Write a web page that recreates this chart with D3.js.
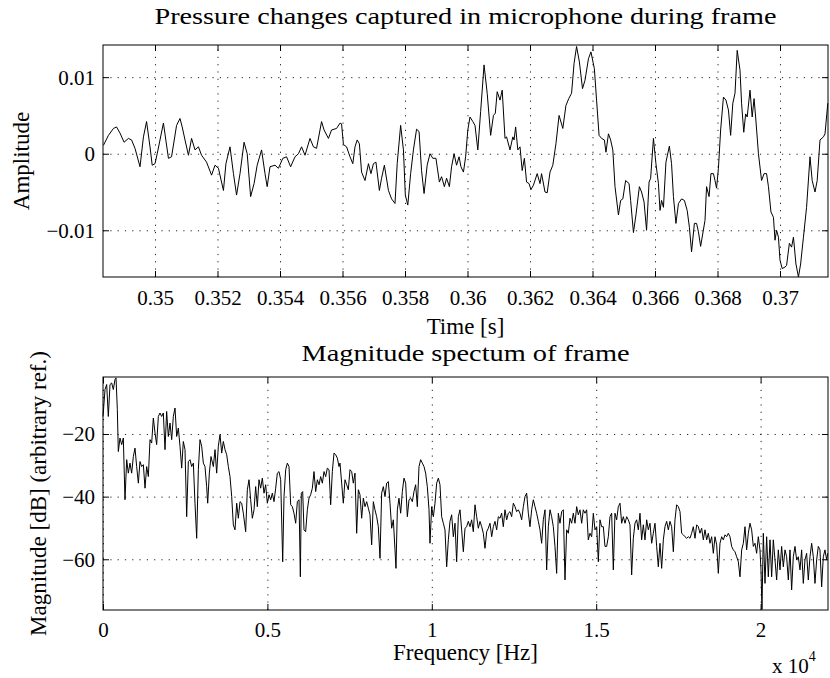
<!DOCTYPE html>
<html>
<head>
<meta charset="utf-8">
<script src="https://cdn.jsdelivr.net/npm/d3@7"></script>
<style>
  body { margin: 0; background: #fff; }
  svg text { font-family: "Liberation Serif", "Times New Roman", serif; font-size: 21px; fill: #000; }
  svg text.label { font-size: 23px; }
  svg text.title { font-size: 24px; }
</style>
</head>
<body>
<svg id="chart" width="830" height="678"></svg>
<script>
// ---- top panel: microphone pressure over the frame (time in ms, amplitude x 1e-3)
const timeMs = [348.35,348.51,348.67,348.77,348.88,349.01,349.15,349.25,349.36,349.52,
  349.63,349.73,349.84,349.91,350.00,350.07,350.27,350.43,350.53,350.69,
  350.80,350.87,350.96,351.07,351.17,351.28,351.39,351.49,351.65,351.81,
  351.92,352.03,352.19,352.27,352.40,352.51,352.61,352.72,352.85,352.95,
  353.06,353.17,353.27,353.41,353.52,353.59,353.68,353.84,353.95,354.09,
  354.21,354.34,354.48,354.59,354.69,354.80,354.96,355.07,355.17,355.33,
  355.41,355.55,355.65,355.81,355.92,355.97,356.03,356.13,356.24,356.33,
  356.40,356.47,356.54,356.61,356.72,356.83,356.91,356.99,357.07,357.18,
  357.25,357.34,357.47,357.57,357.68,357.75,357.86,357.95,358.01,358.09,
  358.18,358.27,358.37,358.45,358.53,358.61,358.71,358.80,358.89,358.99,
  359.10,359.17,359.26,359.33,359.42,359.49,359.57,359.65,359.73,359.79,
  359.87,359.94,360.01,360.08,360.17,360.24,360.33,360.42,360.53,360.63,
  360.74,360.83,360.89,360.95,361.04,361.11,361.20,361.25,361.36,361.45,
  361.49,361.54,361.61,361.68,361.75,361.82,361.89,361.97,362.03,362.11,
  362.23,362.32,362.37,362.48,362.55,362.64,362.73,362.83,362.93,363.05,
  363.15,363.24,363.33,363.41,363.49,363.58,363.68,363.76,363.87,363.95,
  364.06,364.13,364.21,364.29,364.38,364.43,364.51,364.58,364.65,364.72,
  364.83,364.90,364.97,365.06,365.17,365.22,365.31,365.39,365.50,365.57,
  365.65,365.73,365.81,365.86,365.95,366.03,366.11,366.16,366.21,366.27,
  366.35,366.46,366.53,366.59,366.67,366.75,366.85,366.94,367.03,367.10,
  367.17,367.26,367.33,367.39,367.46,367.60,367.65,367.73,367.79,367.87,
  367.92,367.97,368.03,368.10,368.19,368.27,368.35,368.42,368.49,368.56,
  368.63,368.72,368.77,368.84,368.90,368.95,369.04,369.11,369.17,369.22,
  369.31,369.41,369.49,369.57,369.63,369.71,369.79,369.84,369.89,369.95,
  370.00,370.07,370.16,370.21,370.30,370.37,370.43,370.51,370.59,370.66,
  370.75,370.85,370.96,371.03,371.12,371.19,371.28,371.39,371.44,371.53];
const amplitudeE3 = [1.1,2.4,3.3,3.5,2.7,1.5,2.0,1.8,0.7,-1.7,
  2.2,4.2,0.9,-1.5,-1.3,0.0,4.0,-0.6,-0.4,3.7,
  4.6,3.5,1.8,-0.2,2.0,0.5,0.9,-0.2,-1.1,-2.8,
  -1.5,-1.9,-4.8,-1.3,0.9,-2.6,-5.4,-2.6,1.5,0.0,
  -5.6,-3.9,-1.5,0.5,-2.6,-4.3,-1.7,-1.5,-1.9,-0.6,
  -0.4,-1.7,-0.4,0.0,0.9,-0.2,2.0,0.9,0.7,4.2,
  3.1,2.0,3.1,3.3,4.0,3.9,1.2,0.9,-0.4,-1.3,
  0.9,1.8,1.3,-2.4,-3.5,-1.3,-2.6,-1.3,-1.1,-4.8,
  -3.2,-1.5,-4.8,-5.9,-6.5,-1.3,3.7,0.5,-5.4,-6.7,
  -2.6,0.5,3.2,2.9,-2.2,-5.2,-1.5,0.0,-0.6,-0.6,
  -3.7,-3.0,-4.3,-3.2,-4.3,-1.7,0.0,-1.5,-0.4,-1.7,
  -2.4,-0.4,3.1,4.8,4.2,3.7,0.5,5.5,11.6,7.9,
  2.4,5.0,5.3,8.1,7.0,8.3,2.0,2.2,0.5,2.2,
  1.8,3.5,0.5,0.9,-2.2,-0.6,-3.7,-3.9,-4.7,-4.1,
  -2.6,-3.9,-2.6,-5.0,-5.1,-2.4,-1.5,1.3,5.0,3.3,
  6.3,7.2,7.9,11.8,14.0,12.0,8.5,9.6,12.4,13.3,
  11.1,7.0,2.4,2.0,1.8,0.2,2.6,1.8,0.5,-4.3,
  -8.0,-6.1,-5.9,-3.5,-3.9,-6.1,-10.3,-8.0,-4.3,-5.0,
  -6.3,-10.0,-3.7,-3.2,2.0,-1.3,-3.9,-7.4,-6.1,-7.0,
  -1.1,1.0,-1.3,-5.6,-9.1,-6.5,-5.9,-6.1,-7.4,-9.6,
  -12.8,-9.1,-9.1,-10.2,-12.1,-8.7,-4.3,-5.6,-2.6,-2.6,
  -3.5,-4.5,-1.9,3.1,7.4,7.0,5.7,2.4,6.6,7.9,
  13.5,10.9,6.6,2.8,5.2,4.8,8.3,4.8,7.2,4.8,
  0.0,-3.5,-2.6,-2.6,-4.3,-7.6,-8.3,-11.3,-10.0,-10.9,
  -13.9,-15.0,-14.8,-14.6,-11.7,-12.2,-10.9,-14.4,-16.1,-14.4,
  -10.9,-7.0,-0.4,-3.5,-5.0,-3.5,1.8,2.2,2.6,6.6];
const timeTicks = [0.35,0.352,0.354,0.356,0.358,0.36,0.362,0.364,0.366,0.368,0.37];
const ampTicks = [-0.01, 0, 0.01];
const timeDomain = [0.348336, 0.371536];
const ampDomain = [-0.0161, 0.0142];

// ---- bottom panel: magnitude spectrum of the frame
const freqHz = [0,61,112,162,213,264,314,365,396,436,
  466,517,568,618,669,720,770,821,872,923,
  973,1024,1075,1125,1176,1227,1278,1328,1379,1430,
  1480,1531,1582,1632,1683,1734,1784,1835,1886,1936,
  1987,2038,2089,2139,2190,2241,2291,2342,2393,2443,
  2494,2545,2596,2646,2697,2748,2798,2849,2900,2950,
  3001,3052,3102,3153,3184,3234,3285,3356,3407,3457,
  3508,3559,3610,3660,3711,3762,3812,3863,3914,3964,
  4015,4066,4116,4167,4218,4268,4339,4390,4441,4491,
  4542,4593,4643,4694,4745,4795,4846,4897,4947,4998,
  5049,5100,5150,5201,5252,5302,5353,5404,5465,5505,
  5556,5607,5657,5708,5759,5809,5860,5911,5962,6002,
  6032,6073,6113,6164,6215,6265,6316,6367,6417,6468,
  6519,6570,6620,6671,6722,6772,6823,6874,6924,6975,
  7026,7076,7127,7178,
  7208,7259,7309,7360,7411,7461,7512,7563,7613,7664,
  7715,7766,7816,7867,7918,7968,8019,8070,8120,8171,
  8222,8272,8323,8374,8425,8475,8526,8577,8627,8678,
  8729,8779,8830,8881,8911,8952,9002,9053,9104,9154,
  9205,9256,9307,9357,9408,9458,9509,9560,9611,9661,
  9712,9763,9813,9864,9915,9945,9996,10047,10097,10148,
  10199,10249,10300,10351,10401,10452,10503,10553,10604,10655,
  10706,10756,10807,10858,10908,10959,11010,11060,11111,11162,
  11212,11263,11314,11364,11415,11466,11517,11567,11618,11669,
  11719,11770,11821,11871,11922,11973,12023,12074,12125,12175,
  12226,12277,12328,12378,12429,12480,12530,12581,12632,12682,
  12733,12784,12834,12885,12936,12986,13037,13088,13139,13189,
  13240,13291,13341,13392,13443,13493,13544,13595,13645,13696,
  13747,13797,13848,13899,13949,14000,14051,14102,14152,14203,
  14254,14304,14355,14406,14456,14507,14558,14608,14659,14710,
  14760,14811,14862,14913,14963,15014,15065,15115,15166,15217,
  15267,15318,15369,15419,15470,15521,15571,15622,15673,15724,
  15774,15825,15876,15926,15977,16028,16078,16129,16180,16230,
  16281,16332,16382,16433,16484,16535,16585,16636,16687,16737,
  16788,16839,16889,16940,16991,17042,17092,17143,17194,17244,
  17295,17346,17396,17447,17498,17549,17599,17650,17701,17751,
  17802,17853,17903,17954,18005,18055,18106,18157,18207,18258,
  18309,18360,18410,18461,18512,18562,18613,18664,18714,18765,
  18816,18866,18917,18968,19018,19069,19120,19170,19221,19272,
  19323,19373,19424,19475,19525,19576,19627,19677,19728,19779,
  19829,19880,19931,19981,20012,20042,20083,20134,20184,20235,
  20286,20336,20387,20438,20488,20539,20590,20640,20691,20742,
  20792,20843,20894,20944,20995,21046,21096,21147,21198,21248,
  21299,21350,21400,21451,21502,21553,21603,21654,21705,21755,
  21806,21857,21907,21958,22009,22040];
const magDb = [-14.4,-5.8,-4.2,-14.4,-4.2,-3.7,-5.8,-2.6,-2.1,-12.2,
  -25.6,-21.3,-23.4,-21.3,-41.0,-28.2,-32.5,-29.3,-32.5,-27.2,
  -24.5,-30.4,-35.7,-28.8,-30.4,-29.8,-37.3,-30.4,-33.6,-21.8,
  -22.9,-14.9,-19.7,-23.4,-14.4,-13.3,-14.4,-13.3,-25.0,-12.8,
  -20.8,-16.5,-21.8,-14.4,-11.7,-20.8,-18.1,-23.9,-30.9,-22.4,
  -25.0,-46.4,-28.8,-28.2,-30.4,-29.3,-42.1,-53.3,-31.4,-21.8,
  -23.9,-29.3,-30.4,-36.8,-42.1,-32.5,-27.2,-30.4,-25.0,-32.5,
  -23.9,-20.2,-26.1,-22.4,-25.0,-26.6,-30.4,-33.6,-40.0,-49.0,
  -50.6,-42.1,-46.9,-41.6,-42.1,-45.3,-51.2,-37.8,-34.6,-41.0,
  -46.9,-44.2,-36.8,-43.2,-34.6,-37.3,-34.1,-38.9,-36.2,-42.1,
  -39.4,-41.0,-38.9,-41.6,-37.3,-32.5,-32.0,-34.6,-60.8,-40.0,
  -31.4,-29.3,-30.4,-42.6,-43.2,-45.3,-48.5,-41.6,-41.0,-65.6,
  -38.9,-38.4,-50.6,-51.2,-44.2,-40.5,-39.4,-37.3,-32.0,-38.4,
  -34.6,-36.2,-33.6,-35.7,-32.0,-33.6,-30.9,-31.4,-42.6,-32.0,
  -26.1,-26.6,-27.7,-30.4,
  -29.3,-35.7,-42.1,-34.6,-36.2,-37.8,-31.4,-32.0,-35.7,-32.5,
  -51.7,-37.8,-39.4,-46.9,-40.5,-43.2,-41.6,-43.7,-45.8,-55.4,
  -41.6,-44.2,-46.4,-49.6,-59.7,-38.9,-36.8,-40.0,-35.7,-35.2,
  -42.1,-50.1,-47.4,-57.0,-62.9,-44.2,-40.5,-45.3,-38.4,-34.1,
  -35.7,-46.4,-41.0,-40.5,-41.6,-38.4,-36.2,-43.2,-30.4,-28.2,
  -29.3,-30.4,-32.5,-36.8,-44.2,-54.9,-43.2,-46.4,-42.1,-35.7,
  -34.1,-36.2,-46.4,-48.5,-50.6,-62.4,-53.8,-47.9,-45.8,-52.8,
  -48.5,-60.8,-46.4,-44.2,-50.6,-57.6,-50.1,-49.6,-47.9,-49.6,
  -47.4,-51.2,-42.6,-46.4,-50.1,-47.9,-49.6,-51.7,-56.5,-51.2,
  -50.1,-48.5,-52.8,-49.6,-47.9,-50.6,-46.4,-46.9,-45.3,-49.6,
  -44.2,-47.4,-45.3,-44.8,-46.4,-42.1,-43.2,-44.8,-44.2,-45.3,
  -47.4,-43.2,-40.0,-38.9,-45.3,-49.6,-44.2,-41.0,-43.2,-45.3,
  -47.9,-50.6,-54.9,-47.4,-44.2,-63.4,-49.6,-44.2,-46.4,-49.6,
  -55.9,-64.5,-45.3,-48.5,-44.8,-44.2,-66.6,-50.6,-51.7,-46.9,
  -48.5,-45.3,-48.5,-43.2,-45.8,-44.2,-48.5,-44.2,-45.3,-44.2,
  -53.8,-51.7,-52.8,-45.3,-50.6,-49.6,-60.8,-47.4,-49.6,-49.6,
  -55.9,-55.9,-52.8,-46.4,-45.3,-63.4,-45.3,-47.4,-43.2,-42.1,
  -48.5,-46.4,-48.5,-46.4,-47.4,-49.0,-65.0,-53.3,-48.5,-47.4,
  -50.6,-45.3,-53.8,-49.0,-53.8,-47.4,-50.6,-48.5,-54.9,-51.7,
  -48.5,-55.9,-62.4,-54.9,-62.9,-53.8,-49.6,-47.9,-50.6,-47.9,
  -49.6,-57.6,-47.4,-42.6,-43.2,-44.8,-51.7,-52.2,-52.8,-53.3,
  -52.8,-53.3,-51.7,-49.6,-53.3,-49.0,-49.6,-51.7,-50.1,-53.8,
  -50.6,-53.8,-51.7,-54.9,-52.8,-58.1,-52.8,-55.4,-64.5,-54.9,
  -52.8,-53.8,-52.2,-52.8,-51.7,-52.8,-55.9,-57.0,-57.6,-59.2,
  -60.8,-65.6,-57.0,-54.9,-49.6,-57.0,-51.7,-48.5,-50.6,-55.9,
  -54.9,-58.1,-52.8,-57.0,-63.4,-76.0,-51.7,-67.7,-52.8,-65.6,
  -53.8,-65.6,-53.8,-60.2,-66.6,-57.0,-63.4,-55.9,-62.4,-57.0,
  -59.2,-66.6,-57.0,-69.8,-59.2,-55.9,-60.2,-59.2,-63.4,-57.0,
  -67.7,-60.2,-58.1,-66.6,-59.2,-54.9,-59.2,-67.7,-60.2,-55.9,
  -57.0,-68.8,-59.2,-57.0,-60.2,-58.1];
const freqTicks = [0, 5000, 10000, 15000, 20000];
const dbTicks = [-60, -40, -20];
const freqDomain = [0, 22050];
const dbDomain = [-76.2, -1.8];

const svg = d3.select('#chart');
const LEFT = 103, RIGHT = 828, CX = (LEFT + RIGHT) / 2;
const minus = v => (v < 0 ? '\u2212' : '') + Math.abs(v);

function drawPanel(p) {
  const x = d3.scaleLinear().domain(p.xDomain).range([LEFT, RIGHT]);
  const y = d3.scaleLinear().domain(p.yDomain).range([p.bottom, p.top]);
  const h = p.bottom - p.top, w = RIGHT - LEFT;
  const g = svg.append('g');

  // dotted grid
  g.append('g').attr('transform', `translate(0,${p.bottom})`)
    .call(d3.axisBottom(x).tickValues(p.xTicks).tickSize(-h).tickFormat(''))
    .call(s => s.select('.domain').remove());
  g.append('g').attr('transform', `translate(${LEFT},0)`)
    .call(d3.axisLeft(y).tickValues(p.yTicks).tickSize(-w).tickFormat(''))
    .call(s => s.select('.domain').remove());
  g.selectAll('.tick line').attr('stroke', '#222').attr('stroke-width', 1)
    .attr('stroke-dasharray', '1.2,6.1');

  // signal
  g.append('path').datum(p.data)
    .attr('fill', 'none').attr('stroke', '#000').attr('stroke-width', 1)
    .attr('stroke-linejoin', 'round')
    .attr('d', d3.line().x(d => x(d[0])).y(d => y(d[1])));

  // box + inward ticks on all four sides
  g.append('rect').attr('x', LEFT).attr('y', p.top).attr('width', w).attr('height', h)
    .attr('fill', 'none').attr('stroke', '#000').attr('stroke-width', 1);

  const ax = g.append('g').attr('class', 'axis');
  ax.append('g').attr('transform', `translate(0,${p.bottom})`)
    .call(d3.axisBottom(x).tickValues(p.xTicks).tickSize(-6).tickFormat(p.xFormat))
    .call(s => s.select('.domain').remove())
    .call(s => s.selectAll('text').attr('y', p.xLabelOffset).attr('dy', null));
  ax.append('g').attr('transform', `translate(0,${p.top})`)
    .call(d3.axisTop(x).tickValues(p.xTicks).tickSize(-6).tickFormat(''))
    .call(s => s.select('.domain').remove());
  ax.append('g').attr('transform', `translate(${LEFT},0)`)
    .call(d3.axisLeft(y).tickValues(p.yTicks).tickSize(-6).tickFormat(p.yFormat))
    .call(s => s.select('.domain').remove())
    .call(s => s.selectAll('text').attr('x', -8).attr('dy', '0.33em'));
  ax.append('g').attr('transform', `translate(${RIGHT},0)`)
    .call(d3.axisRight(y).tickValues(p.yTicks).tickSize(-6).tickFormat(''))
    .call(s => s.select('.domain').remove());
  ax.selectAll('.tick line').attr('stroke', '#000');
  ax.selectAll('g').attr('font-size', null).attr('font-family', null);

  // labels (titles are set wide, as in the source figure)
  svg.append('text').attr('class', 'title').attr('x', CX).attr('y', p.titleY)
    .attr('text-anchor', 'middle')
    .attr('textLength', p.titleWidth).attr('lengthAdjust', 'spacingAndGlyphs')
    .text(p.title);
  svg.append('text').attr('class', 'label').attr('x', CX).attr('y', p.xTitleY)
    .attr('text-anchor', 'middle').text(p.xTitle);
  svg.append('text').attr('class', 'label').attr('text-anchor', 'middle')
    .attr('transform', `translate(${p.yTitleX},${(p.top + p.bottom) / 2}) rotate(-90)`)
    .text(p.yTitle);
  return { x, y };
}

drawPanel({
  top: 45, bottom: 277,
  xDomain: timeDomain, yDomain: ampDomain,
  xTicks: timeTicks, yTicks: ampTicks,
  data: d3.zip(timeMs.map(t => t / 1000), amplitudeE3.map(a => a / 1000)),
  xFormat: d => String(+d.toFixed(3)), yFormat: d => minus(+d.toFixed(3)),
  xLabelOffset: 28,
  title: 'Pressure changes captured in microphone during frame', titleY: 24, titleWidth: 622,
  xTitle: 'Time [s]', xTitleY: 334,
  yTitle: 'Amplitude', yTitleX: 29
});

drawPanel({
  top: 377, bottom: 610,
  xDomain: freqDomain, yDomain: dbDomain,
  xTicks: freqTicks, yTicks: dbTicks,
  data: d3.zip(freqHz, magDb),
  xFormat: d => String(d / 1e4), yFormat: d => minus(d),
  xLabelOffset: 27,
  title: 'Magnitude spectum of frame', titleY: 361, titleWidth: 328,
  xTitle: 'Frequency [Hz]', xTitleY: 660,
  yTitle: 'Magnitude [dB] (arbitrary ref.)', yTitleX: 46
});

// exponent for the frequency axis
const expo = svg.append('text').attr('x', 772).attr('y', 673);
expo.append('tspan').text('x 10');
expo.append('tspan').attr('dy', -12).style('font-size', '14px').text('4');
</script>
</body>
</html>
